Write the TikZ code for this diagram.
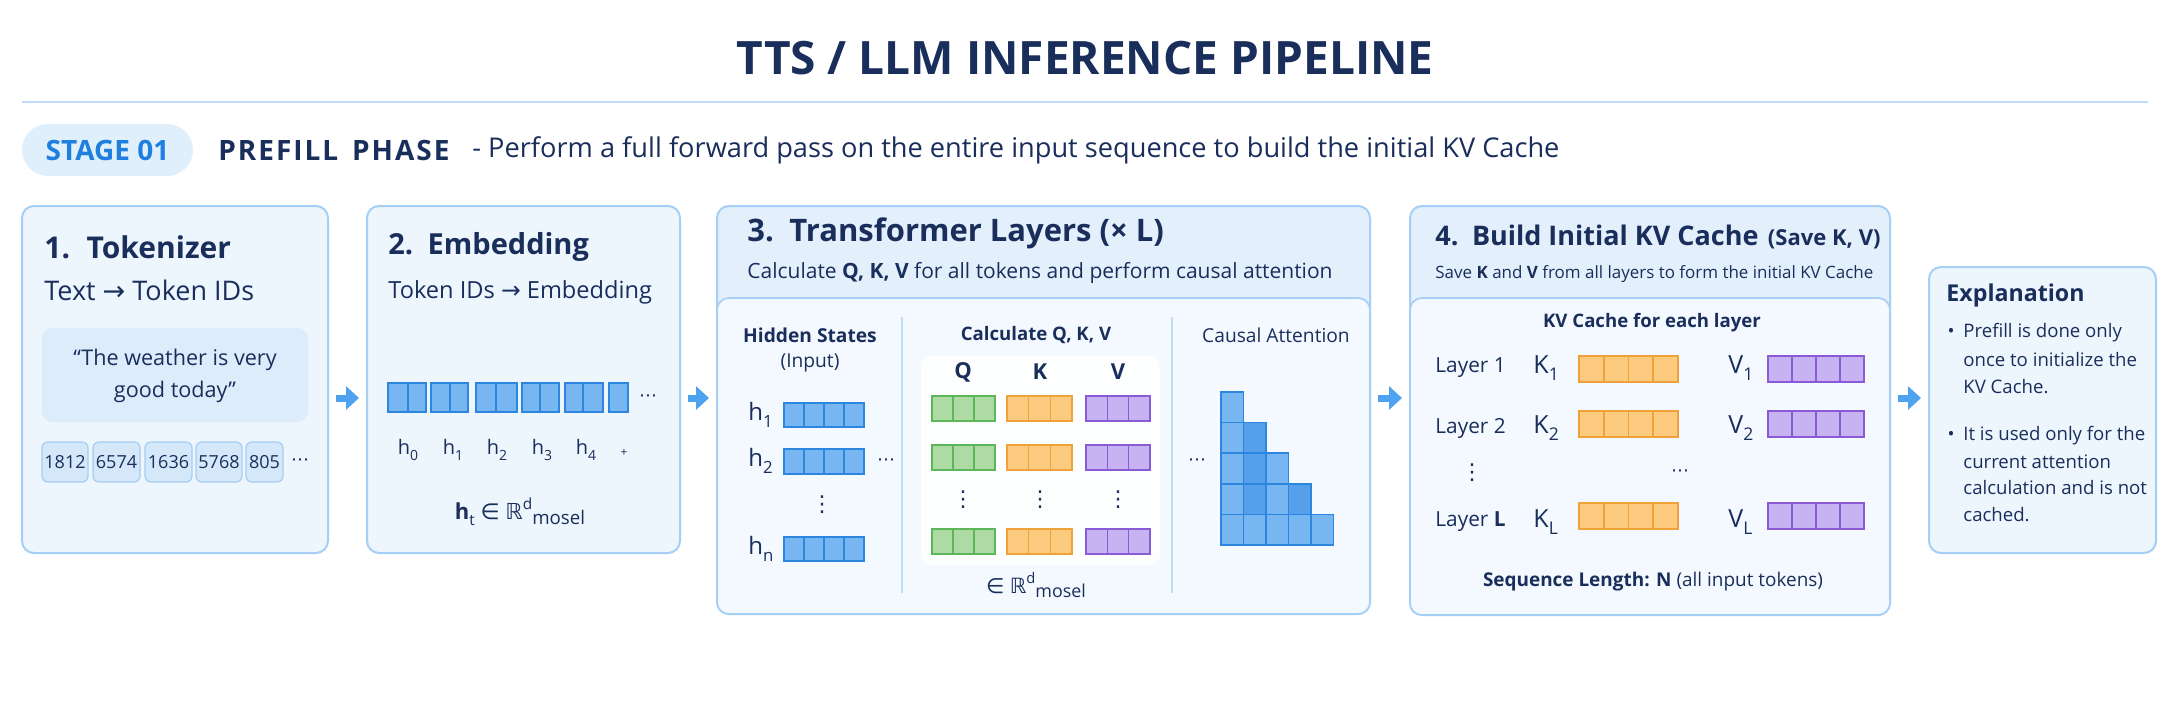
\documentclass[tikz,border=0pt]{standalone}
\usepackage{fontspec}
\usepackage{graphicx}
\IfFontExistsTF{Noto Sans Bold}{\setmainfont{Noto Sans}[BoldFont={Noto Sans Bold}]}{%
  \IfFontExistsTF{NotoSans-Bold.ttf}{\setmainfont{NotoSans}[Extension=.ttf, UprightFont=*-Regular, BoldFont=*-Bold]}{%
    \IfFontExistsTF{Open Sans Bold}{\setmainfont{Open Sans}[BoldFont={Open Sans Bold}]}{%
      \setmainfont{Noto Sans}[AutoFakeBold=2]}}}
\newfontfamily\symf{DejaVu Sans}
\usetikzlibrary{fit,arrows.meta}
\definecolor{navy}{HTML}{1A2E5C}
\definecolor{linec}{HTML}{A6CFF5}
\definecolor{boxfill}{HTML}{EDF5FD}
\definecolor{hdrfill}{HTML}{E3EFFB}
\definecolor{panelfill}{HTML}{F3F9FE}
\definecolor{pillfill}{HTML}{E0EFFC}
\definecolor{stageblue}{HTML}{1E7FE0}
\definecolor{tokfill}{HTML}{D5E8FA}
\definecolor{tokline}{HTML}{A5CDF3}
\definecolor{quotefill}{HTML}{DCECFB}
\definecolor{bluef}{HTML}{78B6F2}
\definecolor{bluel}{HTML}{2C86E0}
\definecolor{blued}{HTML}{559FEB}
\definecolor{greenf}{HTML}{AEDAA4}
\definecolor{greenl}{HTML}{5CB65A}
\definecolor{orangef}{HTML}{FDCB80}
\definecolor{orangel}{HTML}{EFA23A}
\definecolor{purplef}{HTML}{C8B3F2}
\definecolor{purplel}{HTML}{8A5BD6}
\definecolor{arrowc}{HTML}{4DA3F0}
\definecolor{divc}{HTML}{BCDCF7}
\definecolor{rulec}{HTML}{BFDDF9}
\newcommand\fsz[1]{\fontsize{#1}{#1}\selectfont}
\newcommand\sbs[1]{\raisebox{-0.28em}{\scalebox{0.7}{#1}}}
\newcommand\sps[1]{\raisebox{0.45em}{\scalebox{0.7}{#1}}}
\newcommand\cellrow[6]{%
  \pgfmathsetmacro\cw{(#3-#1)/#5}%
  \foreach \i in {1,...,#5}{\draw[#6] ({#1+(\i-1)*\cw},#2) rectangle ({#1+\i*\cw},#4);}}
\begin{document}
\begin{tikzpicture}[x=0.5pt,y=-0.5pt,
  txt/.style={inner sep=0pt, text=navy},
  box/.style={draw=linec, line width=1pt, fill=boxfill, rounded corners=6pt, inner sep=0pt},
  panel/.style={draw=linec, line width=0.8pt, fill=panelfill, rounded corners=6pt, inner sep=0pt},
  tok/.style={draw=tokline, line width=0.6pt, fill=tokfill, rounded corners=3pt, inner sep=0pt},
  bcell/.style={fill=bluef, draw=bluel, line width=0.8pt},
  dcell/.style={fill=blued, draw=bluel, line width=0.8pt},
  gcell/.style={fill=greenf, draw=greenl, line width=0.8pt},
  ocell/.style={fill=orangef, draw=orangel, line width=0.8pt},
  pcell/.style={fill=purplef, draw=purplel, line width=0.8pt},
  divider/.style={draw=divc, line width=0.8pt},
  flow/.style={draw=arrowc, line width=3.5pt, -{Triangle[width=11.5pt,length=6.5pt]}, shorten <=3.5pt, shorten >=3.5pt}]
\useasboundingbox[fill=white] (0,0) rectangle (2170,725);

% title
\node[txt, font=\fsz{23}\bfseries] (title) at (1085,58) {TTS / LLM INFERENCE PIPELINE};
\draw[draw=rulec, line width=1pt] (22,102) -- (2148,102);

% stage line
\node[fit={(22,124) (193,176)}, inner sep=0pt, fill=pillfill, rounded corners=13pt] (pill) {};
\node[txt, font=\fsz{14}\bfseries, text=stageblue] (stage) at (pill.center) {STAGE 01};
\node[txt, font=\fsz{14}\bfseries, anchor=west] (phase) at (218,150) {\addfontfeature{LetterSpace=7}PREFILL\hspace{0.5em}PHASE};
\node[txt, font=\fsz{13.6}, anchor=west] (desc) at (472,150) {- Perform a full forward pass on the entire input sequence to build the initial KV Cache};

% box 1
\node[box, fit={(22,206) (328,553)}] (b1) {};
\node[txt, anchor=west, font=\fsz{15}\bfseries] (b1h) at (44,247) {1.\hspace{0.55em}Tokenizer};
\node[txt, anchor=west, font=\fsz{13.5}] (b1s) at (44,290) {Text {\symf →} Token IDs};
\node[fit={(42,328) (308,422)}, inner sep=0pt, fill=quotefill, rounded corners=5pt] (quote) {};
\node[txt, font=\fsz{10.8}] (q1) at (175,360) {“The weather is very};
\node[txt, font=\fsz{10.8}] (q2) at (175,392) {good today”};
\foreach \a/\b/\t in {42/88/1812, 93/140/6574, 145/192/1636, 196/242/5768, 246/283/805}{
  \node[tok, fit={(\a,442) (\b,482)}] (t\t) {};
  \node[txt, font=\fsz{9}] at (t\t.center) {\t};
}
\node[txt, font=\fsz{9}\symf] (tdots) at (300,462) {⋯};

% box 2
\node[box, fit={(367,206) (680,553)}] (b2) {};
\node[txt, anchor=west, font=\fsz{14.5}\bfseries] (b2h) at (388,247) {2.\hspace{0.5em}Embedding};
\node[txt, anchor=west, font=\fsz{11.8}] (b2s) at (388,292) {Token IDs {\symf →} Embedding};
\foreach \a/\b in {388/408, 408/426, 431/450, 450/468, 476/496, 496/517, 522/540, 540/559, 565/583, 583/603, 609/628}{
  \draw[bcell] (\a,383) rectangle (\b,412);
}
\node[txt, font=\fsz{9}\symf] (edots) at (648,398) {⋯};
\foreach \x/\k in {408/0, 453/1, 497/2, 542/3, 586/4}{
  \node[txt, font=\fsz{10}] at (\x,450) {h\sbs{\k}};
}
\node[txt, font=\fsz{6}] (eplus) at (624,453) {+};
\node[txt, font=\fsz{11}] (ht) at (520,512) {{\bfseries h}\sbs{t} {\symf ∈} {\symf ℝ}\sps{d}\raisebox{-0.2em}{\scalebox{0.85}{mosel}}};

% box 3
\node[box, fill=hdrfill, fit={(717,206) (1370,614)}] (b3) {};
\node[panel, fit={(717,298) (1370,614)}] (b3p) {};
\node[txt, anchor=west, font=\fsz{15.5}\bfseries] (b3h) at (747,233) {3.\hspace{0.5em}Transformer Layers (× L)};
\node[txt, anchor=west, font=\fsz{10.5}] (b3s) at (747,273) {Calculate \textbf{Q, K, V} for all tokens and perform causal attention};
\node[txt, font=\fsz{9.6}\bfseries] (hs1) at (810,335) {Hidden States};
\node[txt, font=\fsz{9.6}] (hs2) at (810,363) {(Input)};
\draw[divider] (902,317) -- (902,593);
\draw[divider] (1172,317) -- (1172,593);
\node[txt, anchor=west, font=\fsz{12}] (h1) at (748,415) {h\sbs{1}};
\node[txt, anchor=west, font=\fsz{12}] (h2) at (748,461) {h\sbs{2}};
\node[txt, anchor=west, font=\fsz{12}] (hn) at (748,549) {h\sbs{n}};
\cellrow{784}{403}{864}{427}{4}{bcell}
\cellrow{784}{449}{864}{474}{4}{bcell}
\cellrow{784}{537}{864}{561}{4}{bcell}
\node[txt, font=\fsz{11}\symf] (hvd) at (822,505) {⋮};
\node[txt, font=\fsz{9}\symf] (hhd) at (886,462) {⋯};

\node[txt, font=\fsz{9.3}\bfseries] (cq) at (1036,335) {Calculate Q, K, V};
\node[fit={(921,356) (1160,565)}, inner sep=0pt, fill=white, fill opacity=0.85, rounded corners=5pt] (wp) {};
\node[txt, font=\fsz{11}\bfseries] (lq) at (963,372) {Q};
\node[txt, font=\fsz{11}\bfseries] (lk) at (1040,372) {K};
\node[txt, font=\fsz{11}\bfseries] (lv) at (1118,372) {V};
\foreach \ya/\yb in {396/421, 445/470, 529/554}{
  \cellrow{932}{\ya}{995}{\yb}{3}{gcell}
  \cellrow{1007}{\ya}{1072}{\yb}{3}{ocell}
  \cellrow{1086}{\ya}{1150}{\yb}{3}{pcell}
}
\foreach \x in {963,1040,1118}{\node[txt, font=\fsz{11}\symf] at (\x,500) {⋮};}
\node[txt, font=\fsz{10.5}] (rd) at (1036,585) {{\symf ∈} {\symf ℝ}\sps{d}\raisebox{-0.2em}{\scalebox{0.85}{mosel}}};

\node[txt, font=\fsz{9.6}] (ca) at (1276,335) {Causal Attention};
\node[txt, font=\fsz{9}\symf] (cad) at (1197,462) {⋯};
\foreach \r in {0,...,4}{
  \foreach \c in {0,...,\r}{
    \draw[bcell] ({1221+\c*22.5},{392+\r*30.6}) rectangle ({1221+(\c+1)*22.5},{392+(\r+1)*30.6});
  }
}
\foreach \r/\c in {1/1, 2/1, 3/1, 3/3}{
  \draw[dcell] ({1221+\c*22.5},{392+\r*30.6}) rectangle ({1221+(\c+1)*22.5},{392+(\r+1)*30.6});
}

% box 4
\node[box, fill=hdrfill, fit={(1410,206) (1890,615)}] (b4) {};
\node[panel, fit={(1410,298) (1890,615)}] (b4p) {};
\node[txt, anchor=west, font=\fsz{13.5}\bfseries] (b4h) at (1435,237) {4.\hspace{0.5em}Build Initial KV Cache\hspace{0.35em}{\fsz{11}(Save K, V)}};
\node[txt, anchor=west, font=\fsz{10}] (b4s) at (1435,274) {\resizebox{219pt}{!}{Save \textbf{K} and \textbf{V} from all layers to form the initial KV Cache}};
\node[txt, font=\fsz{9.3}\bfseries] (kvt) at (1652,323) {KV Cache for each layer};
\node[txt, anchor=west, font=\fsz{10.4}] (l1) at (1435,368) {Layer 1};
\node[txt, anchor=west, font=\fsz{10.4}] (l2) at (1435,428) {Layer 2};
\node[txt, anchor=west, font=\fsz{10.4}] (lL) at (1435,522) {Layer \textbf{L}};
\node[txt, font=\fsz{11}\symf] (lvd) at (1472,473) {⋮};
\node[txt, font=\fsz{9}\symf] (lhd) at (1680,473) {⋯};
\foreach \y/\ya/\yb/\s in {368/356/382/1, 428/411/437/2, 522/503/529/L}{
  \node[txt, anchor=west, font=\fsz{12.5}] at (1533,\y) {K\sbs{\s}};
  \node[txt, anchor=west, font=\fsz{12.5}] at (1728,\y) {V\sbs{\s}};
  \cellrow{1579}{\ya}{1678}{\yb}{4}{ocell}
  \cellrow{1768}{\ya}{1864}{\yb}{4}{pcell}
}
\node[txt, font=\fsz{10}] (seq) at (1653,582) {\resizebox{170pt}{!}{\textbf{Sequence Length: N} (all input tokens)}};

% box 5
\node[box, fit={(1929,267) (2156,553)}] (b5) {};
\node[txt, anchor=west, font=\fsz{11.6}\bfseries] (exh) at (1946,295) {Explanation};
\node[txt, font=\fsz{9.3}] (bu1) at (1951,333) {•};
\node[txt, font=\fsz{9.3}] (bu2) at (1951,436) {•};
\foreach \y/\t in {333/Prefill is done only, 360/once to initialize the, 387/KV Cache., 436/It is used only for the, 462/current attention, 488/calculation and is not, 515/cached.}{
  \node[txt, anchor=west, font=\fsz{9.3}] at (1963,\y) {\t};
}

% arrows
\coordinate (ay) at (0,398);
\draw[flow] (b1.east |- ay) -- (b2.west |- ay);
\draw[flow] (b2.east |- ay) -- (b3.west |- ay);
\draw[flow] (b3.east |- ay) -- (b4.west |- ay);
\draw[flow] (b4.east |- ay) -- (b5.west |- ay);
\end{tikzpicture}
\end{document}
